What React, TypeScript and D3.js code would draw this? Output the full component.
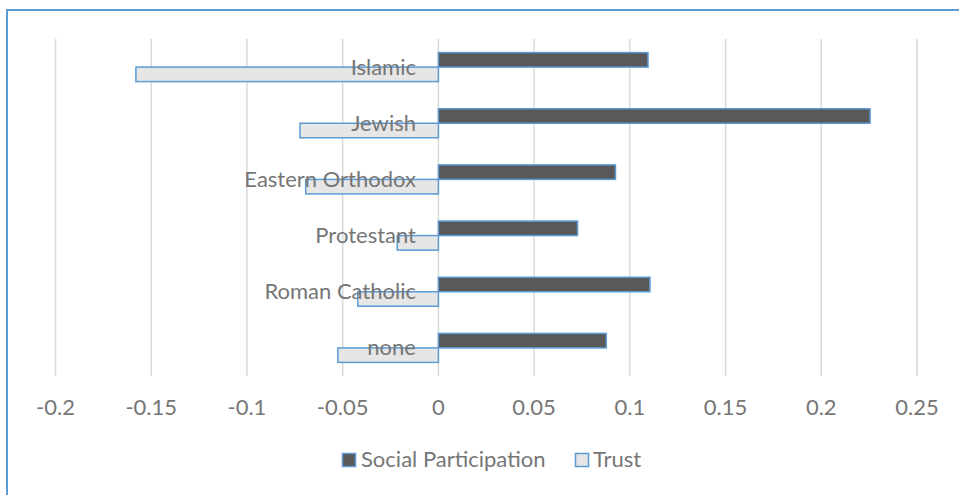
import React from "react";
import * as d3 from "d3";

const categories = ["Islamic", "Jewish", "Eastern Orthodox", "Protestant", "Roman Catholic", "none"];
const socialParticipation = [0.1095, 0.2255, 0.0925, 0.0727, 0.1105, 0.0877];
const trust = [-0.158, -0.0723, -0.0693, -0.0215, -0.0421, -0.0525];
const xTicks = [-0.2, -0.15, -0.1, -0.05, 0, 0.05, 0.1, 0.15, 0.2, 0.25];
const seriesNames = ["Social Participation", "Trust"];

const W = 959;
const H = 495;
const FONT = "Lato, 'Open Sans', sans-serif";
const FS = 22;
const TEXT = "#767676";
const EDGE = "#5B9BD5";

export default function App() {
  const x = d3.scaleLinear().domain([-0.2, 0.25]).range([55.5, 917]);
  const y = d3.scaleBand<string>().domain(categories).range([39, 376]).padding(0);
  const barH = 14.5;

  return (
    <svg width={W} height={H} style={{ position: "absolute", left: 0, top: 0, display: "block" }}>
      <rect x={0} y={0} width={W} height={H} fill="#ffffff" />
      {/* chart frame */}
      <rect x={7} y={10} width={W + 20} height={H + 20} fill="none" stroke={EDGE} strokeWidth={2} />

      {/* vertical gridlines */}
      {xTicks.map((t) => (
        <line key={t} x1={x(t)} x2={x(t)} y1={39} y2={376} stroke="#d9d9d9" strokeWidth={1.5} />
      ))}

      {/* bars */}
      {categories.map((c, i) => {
        const mid = (y(c) as number) + y.bandwidth() / 2;
        const s = socialParticipation[i];
        const t = trust[i];
        return (
          <g key={c}>
            <rect
              x={Math.min(x(0), x(s))}
              y={mid - barH}
              width={Math.abs(x(s) - x(0))}
              height={barH}
              fill="#595959"
              stroke={EDGE}
              strokeWidth={1.5}
            />
            <rect
              x={Math.min(x(0), x(t))}
              y={mid}
              width={Math.abs(x(t) - x(0))}
              height={barH}
              fill="#e7e6e6"
              stroke={EDGE}
              strokeWidth={1.5}
            />
          </g>
        );
      })}

      {/* category labels */}
      {categories.map((c) => (
        <text
          key={c}
          x={416}
          y={(y(c) as number) + y.bandwidth() / 2 + 7.5}
          textAnchor="end"
          fontFamily={FONT}
          fontSize={FS}
          fill={TEXT}
        >
          {c}
        </text>
      ))}

      {/* x tick labels */}
      {xTicks.map((t) => (
        <text
          key={t}
          x={x(t)}
          y={415}
          textAnchor="middle"
          fontFamily={FONT}
          fontSize={FS}
          fill={TEXT}
        >
          {String(t)}
        </text>
      ))}

      {/* legend */}
      <g>
        <rect x={342.5} y={453.5} width={13} height={13} fill="#595959" stroke={EDGE} strokeWidth={1.5} />
        <text x={361} y={467} fontFamily={FONT} fontSize={FS} fill={TEXT}>
          {seriesNames[0]}
        </text>
        <rect x={575.5} y={453.5} width={13} height={13} fill="#e7e6e6" stroke={EDGE} strokeWidth={1.5} />
        <text x={593} y={467} fontFamily={FONT} fontSize={FS} fill={TEXT}>
          {seriesNames[1]}
        </text>
      </g>
    </svg>
  );
}
